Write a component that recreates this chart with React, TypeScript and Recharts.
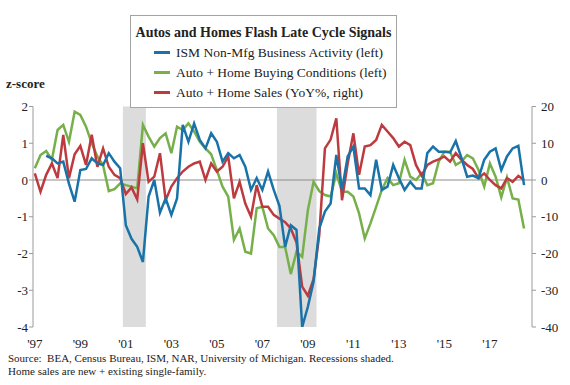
import React from "react";
import { LineChart, Line, XAxis, YAxis, ReferenceArea, ReferenceLine } from "recharts";

// quarterly observations, first point 1997 Q1
const startYear = 1997;
const ism = [null, null, 0.66, 0.59, 0.45, 0.5, -0.1, -0.59, 0.27, 0.3, 0.59, 0.45, 0.41, 0.73, 0.5, 0.32, -1.23, -1.6, -1.82, -2.23, -0.45, 0, -0.89, -0.5, -0.95, -0.5, 1.5, 1.04, 1.54, 1.09, 0.86, 1.27, 1.04, 0.5, 0.73, 0.59, 0.68, 0.36, -0.27, 0.05, -0.27, 0.23, -0.27, -0.7, -1.82, -1.23, -1.36, -4.0, -3.45, -2.77, -1.32, -0.86, -0.64, 0.68, -0.27, 0.64, 0.91, -0.23, -0.23, -0.41, 0.55, -0.27, -0.18, 0.41, 0.05, -0.27, -0.05, -0.23, -0.23, 0.73, 0.91, 0.77, 0.77, 0.75, 1.06, 0.6, 0.09, 0.12, 0.05, 0.55, 0.77, 0.86, 0.27, 0.64, 0.86, 0.93, -0.14];
const buyingConditions = [0.32, 0.68, 0.79, 0.55, 1.36, 1.5, 1.04, 1.86, 1.77, 1.45, 1.0, 0.64, 0.4, -0.3, -0.25, -0.09, -0.14, -0.18, -0.23, 1.5, 1.18, 0.91, 1.14, 1.27, 0.73, 1.45, 1.36, 1.54, 1.32, 1.04, 0.86, 0.7, 0.27, -0.18, -0.45, -1.63, -1.32, -1.95, -2.0, -0.77, -0.73, -1.32, -1.5, -1.82, -1.82, -2.56, -1.95, -2.09, -0.82, -0.05, -0.3, -0.41, -0.45, 0.18, -0.32, -0.32, -0.45, -0.91, -1.59, -1.18, -0.73, -0.27, 0.05, -0.14, -0.09, 0.55, 0.09, 0, 0.18, -0.14, -0.09, 0.5, 0.77, 0.77, 0.41, 0.5, 0.68, 0.59, 0.27, -0.18, 0.45, 0.09, -0.47, 0.07, -0.5, -0.53, -1.32];
const salesYoY = [1.8, -3.2, 1.4, 4.5, 0.5, 12.3, 0.5, 7, 9.3, 4.1, 12.3, 3.6, 8.6, 3.6, 1.4, 0.5, -3.8, -2, -5.3, 10, -0.5, 0.9, 7.3, -5.5, -1.8, 0.5, 2.3, 3.6, 4.5, 5, 0, 4.5, 2.3, 3.6, 6.4, -5, -0.5, -6.4, -10, -1.4, -7.3, -7.3, -9.5, -10.5, -11.5, -13.2, -17, -29, -31.5, -27, -15, 8.6, 11, 16.8, -5.5, 4.5, 12.7, 1.4, 9.1, 9.5, 10.9, 15, 13.2, 11.4, 9.1, 10.4, 9.5, 4.1, 1.2, 4.1, 5, 5.6, 6.4, 5, 7.3, 5.5, 4.1, 3, 0.5, 1.8, 0, -1.4, -2.3, 0.5, -0.5, 1.1, 0];

const yearTicks = [1997, 1999, 2001, 2003, 2005, 2007, 2009, 2011, 2013, 2015, 2017];
const leftTicks = [-4, -3, -2, -1, 0, 1, 2];
const rightTicks = [-40, -30, -20, -10, 0, 10, 20];
const recessions = [
  { from: 2000.87, to: 2001.88 },
  { from: 2007.64, to: 2009.38 },
];

const data = salesYoY.map((s, i) => ({
  t: startYear + i * 0.25,
  ism: ism[i],
  cond: buyingConditions[i],
  sales: s,
}));

const BLUE = "#1a73a8";
const GREEN = "#77b04a";
const RED = "#bd3b3f";
const FONT = "'Liberation Serif', serif";

const legendItems = [
  { label: "ISM Non-Mfg Business Activity (left)", color: BLUE },
  { label: "Auto + Home Buying Conditions (left)", color: GREEN },
  { label: "Auto + Home Sales (YoY%, right)", color: RED },
];

export default function App() {
  const tick = { fill: "#222", fontSize: 13, fontFamily: FONT };
  return (
    <div style={{ position: "absolute", left: 0, top: 0, width: 570, height: 385, background: "#fff", fontFamily: FONT, color: "#222" }}>
      <LineChart width={570} height={385} data={data} margin={{ top: 106.5, right: 0, bottom: 38, left: 0 }}>
        <XAxis
          dataKey="t"
          type="number"
          domain={[1996.92, 2018.85]}
          ticks={yearTicks}
          tickFormatter={(v) => "'" + String(v).slice(2)}
          axisLine={false}
          tickLine={false}
          tickMargin={6}
          tick={tick}
          height={20}
          allowDataOverflow
        />
        <YAxis
          yAxisId="left"
          domain={[-4, 2]}
          ticks={leftTicks}
          width={33}
          tick={tick}
          tickSize={4}
          tickMargin={1}
          stroke="#9a9a9a"
          allowDataOverflow
        />
        <YAxis
          yAxisId="right"
          orientation="right"
          domain={[-40, 20]}
          ticks={rightTicks}
          width={38}
          tick={{ ...tick, textAnchor: "start" }}
          tickSize={4}
          tickMargin={5}
          stroke="#9a9a9a"
        />
        {recessions.map((r) => (
          <ReferenceArea key={r.from} yAxisId="left" x1={r.from} x2={r.to} fill="#dcdcdc" fillOpacity={1} stroke="none" />
        ))}
        <ReferenceLine yAxisId="left" y={0} stroke="#8c8c8c" strokeWidth={1} />
        <Line yAxisId="left" dataKey="cond" stroke={GREEN} strokeWidth={2.5} dot={false} isAnimationActive={false} />
        <Line yAxisId="right" dataKey="sales" stroke={RED} strokeWidth={2.5} dot={false} isAnimationActive={false} />
        <Line yAxisId="left" dataKey="ism" stroke={BLUE} strokeWidth={2.5} dot={false} isAnimationActive={false} />
      </LineChart>

      <div style={{ position: "absolute", left: 6, top: 76, fontSize: 13, fontWeight: "bold" }}>z-score</div>

      <div style={{ position: "absolute", left: 130, top: 15, width: 265, height: 91, border: "1px solid #a3a3a3", background: "#fff" }}>
        <div style={{ textAlign: "center", fontWeight: "bold", fontSize: 14, marginTop: 8, whiteSpace: "nowrap", lineHeight: "17px" }}>
          Autos and Homes Flash Late Cycle Signals
        </div>
        {legendItems.map((it) => (
          <div key={it.label} style={{ display: "flex", alignItems: "center", marginLeft: 23, marginTop: 3, fontSize: 13.5, height: 17, whiteSpace: "nowrap" }}>
            <span style={{ display: "inline-block", width: 16, height: 3, background: it.color, marginRight: 6 }} />
            {it.label}
          </div>
        ))}
      </div>

      <div style={{ position: "absolute", left: 8, top: 351.5, fontSize: 11, lineHeight: "13px", whiteSpace: "pre" }}>
        {"Source:  BEA, Census Bureau, ISM, NAR, University of Michigan. Recessions shaded.\nHome sales are new + existing single-family."}
      </div>
    </div>
  );
}
